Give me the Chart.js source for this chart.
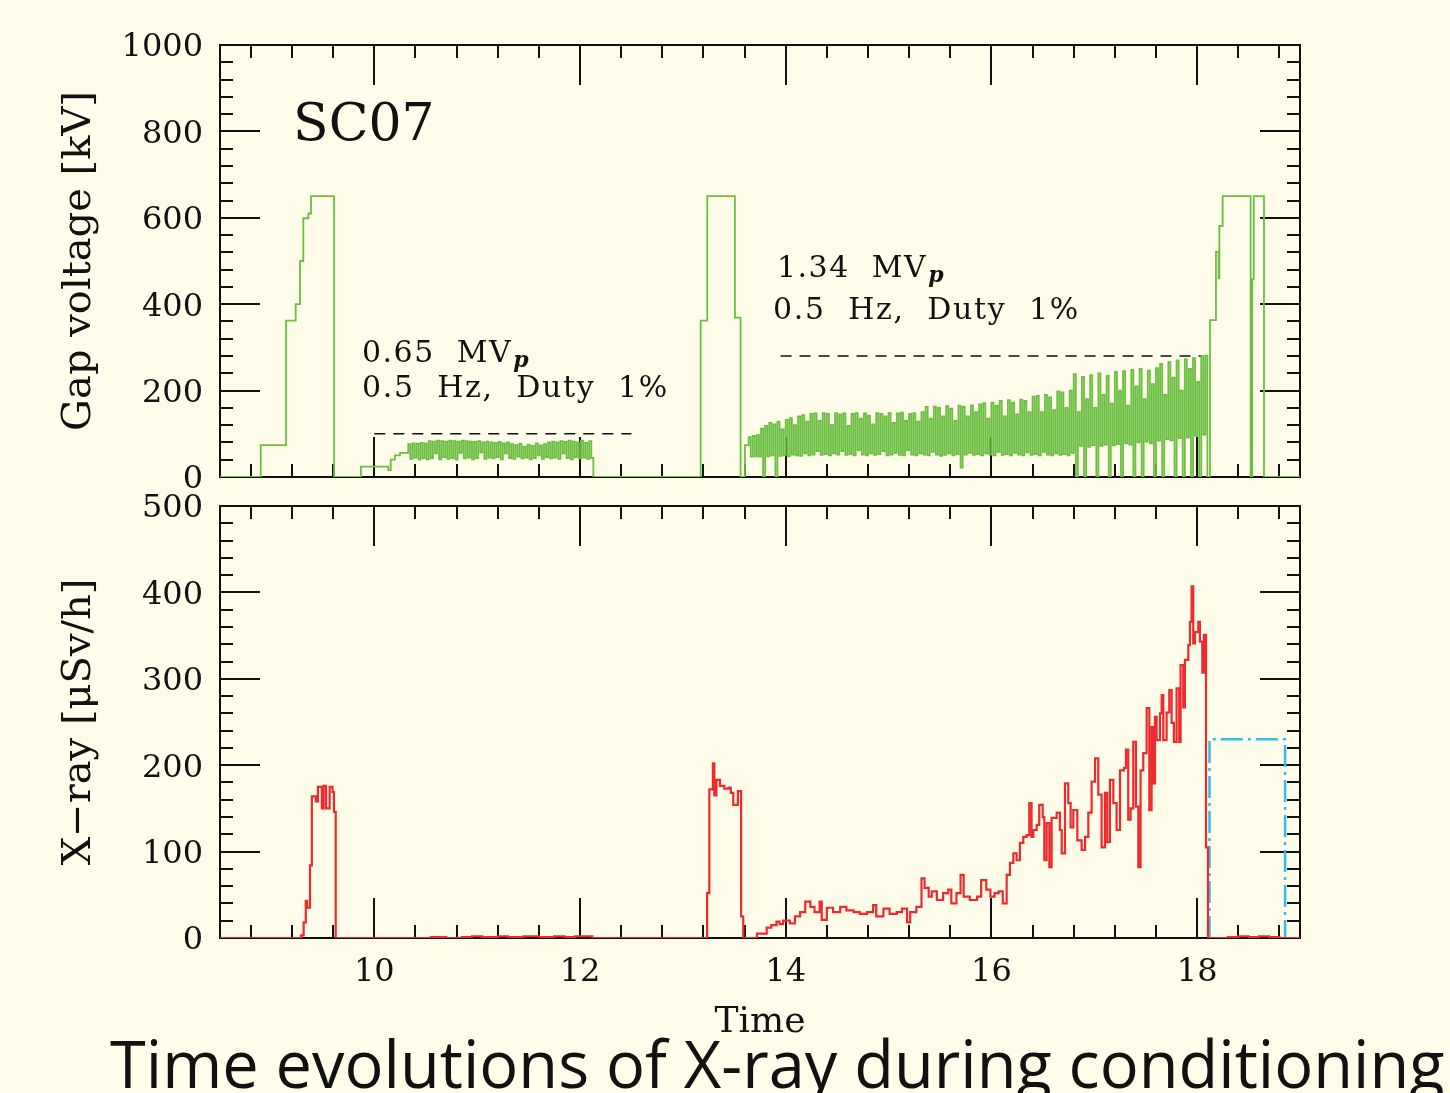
<!DOCTYPE html>
<html><head><meta charset="utf-8">
<script src="https://cdn.jsdelivr.net/npm/chart.js@4.4.1/dist/chart.umd.min.js"></script>
<style>
html,body{margin:0;padding:0;background:#fffce9;width:1450px;height:1093px;overflow:hidden;}
#topc{position:absolute;left:0;top:0;}
#botc{position:absolute;left:0;top:485px;}
#caption{position:absolute;left:110px;top:1029px;font-family:'Open Sans';font-size:66px;line-height:66px;color:#111;white-space:nowrap;transform-origin:0 0;}
</style></head><body>
<canvas id="topc" width="1450" height="500"></canvas>
<canvas id="botc" width="1450" height="608"></canvas>
<div id="caption">Time evolutions of X-ray during conditioning</div>
<script>
// ---------- data ----------
const xMin = 8.5, xMax = 19;
const xTickLabels = [10, 12, 14, 16, 18];
const gapTicks = [0, 200, 400, 600, 800, 1000];
const xrayTicks = [0, 100, 200, 300, 400, 500];

// gap voltage [kV], step segments [time, value]
const greenLead = [[8.5,0],[8.896,74],[9.142,362],[9.236,400],[9.278,500],[9.31,599],[9.36,610],[9.385,650],[9.609,0],[9.87,24],[10.136,16],[10.16,40],[10.2,50],[10.25,56]];
const pulseStep = 0.02;
const pulse1Start = 10.33;
const pulse1 = [76,42,78,45,77,40,79,44,78,41,
  83,43,82,55,84,41,83,46,82,42,
  84,44,83,40,82,56,84,43,83,45,
  82,41,81,44,83,57,80,42,82,45,
  80,43,79,46,81,41,78,55,80,44,
  76,42,74,47,77,43,70,45,75,41,
  72,44,78,50,73,42,76,46,80,43,
  82,45,80,42,83,55,81,44,84,41,
  82,46,80,43,84,45,79,42,83,44];
const greenMid = [[12.13,0],[13.173,362],[13.237,650],[13.506,369],[13.561,0],[13.604,74]];
const pulse2Start = 13.64;
const pulse2 = [92,47,95,48,97,47,112,0,118,48,125,50,122,0,128,49,110,50,132,48,
  136,52,120,50,140,49,143,55,128,50,146,52,147,60,130,51,148,53,146,50,
  120,55,148,52,145,60,147,51,118,53,146,50,148,62,135,52,147,50,142,55,
  122,51,148,53,146,60,140,50,148,52,125,56,147,51,149,50,130,62,146,52,
  148,50,128,55,150,52,162,50,135,58,163,52,160,49,140,51,164,55,158,50,
  130,53,165,22,162,52,140,56,166,51,150,53,168,50,171,55,135,52,172,50,
  165,58,176,51,140,53,178,50,172,56,145,52,179,50,176,57,150,51,186,53,
  188,50,150,58,190,52,184,50,155,55,198,51,196,53,160,50,200,56,238,0,
  150,72,232,0,180,70,236,74,160,0,240,72,190,75,234,0,170,73,243,76,
  200,0,245,78,165,75,248,0,210,80,250,0,180,82,246,78,215,0,252,84,
  262,0,190,88,266,85,230,0,270,90,200,0,272,92,250,0,275,95,220,0,280,98,281,0];
const greenTail = [[18.125,363],[18.183,521],[18.209,460],[18.216,581],[18.248,650],[18.52,0],[18.535,458],[18.55,650],[18.65,0],[19,0]];

// reference levels (dashed)
const guide1T = [10, 12.5], guide1V = 100;
const guide2T = [13.95, 18.05], guide2V = 280;

// X-ray [uSv/h]
const redT = [8.5,9.288,9.313,9.334,9.347,9.375,9.393,9.431,9.452,9.49,9.507,9.531,9.566,9.594,9.608,9.625,
  10.55,10.7,10.85,10.95,11.05,11.2,11.3,11.45,11.6,11.75,11.85,11.95,12.05,12.12,
  13.236,13.257,13.292,13.306,13.326,13.361,13.403,13.445,13.466,13.49,13.535,13.566,13.587,
  13.72,13.815,13.86,13.91,13.94,13.975,14.04,14.09,14.14,14.19,14.24,14.28,14.33,14.35,14.40,14.46,14.53,14.59,14.66,14.72,14.79,14.85,14.88,14.95,
  15.01,15.08,15.13,15.18,15.21,15.27,15.32,15.35,15.39,15.42,15.47,15.53,15.58,15.61,15.66,15.70,15.73,15.79,15.86,15.90,15.95,15.99,
  16.03,16.07,16.11,16.148,16.18,16.213,16.245,16.277,16.31,16.342,16.368,16.39,16.407,16.44,16.465,16.498,16.514,16.537,16.563,16.585,16.634,16.666,16.683,16.715,16.747,16.77,16.796,16.835,16.877,16.91,16.942,16.974,
  17.007,17.039,17.071,17.104,17.126,17.152,17.185,17.217,17.25,17.288,17.308,17.33,17.353,17.379,17.405,17.428,17.45,17.476,17.509,17.535,17.557,17.574,17.59,17.606,17.638,17.655,17.671,17.703,17.729,17.752,17.774,17.8,17.826,17.839,17.865,17.881,17.914,17.93,17.946,17.962,17.979,
  18.011,18.027,18.05,18.066,18.086,18.105,18.3,18.4,18.5,18.6,18.7,18.8,19];
const redV = [0,3,18,43,35,84,164,158,175,150,176,150,175,169,146,0,
  1,0,1,2,1,2,1,2,1,2,1,2,2,0,
  52,172,202,165,183,176,173,174,168,154,170,25,0,
  5,12,15,19,16,20,17,25,30,42,36,30,42,21,35,30,36,32,30,28,30,38,25,34,
  28,30,34,18,30,36,69,58,48,54,44,52,56,40,52,73,48,44,48,67,56,48,
  52,54,40,73,87,98,90,110,117,119,156,117,125,131,154,140,90,133,82,139,145,125,98,179,156,128,148,113,102,117,145,181,
  208,166,105,168,111,183,156,125,194,197,218,137,150,227,152,82,194,214,266,148,244,179,256,229,260,281,229,261,287,249,227,289,227,316,267,322,339,366,407,341,354,
  366,343,307,351,105,0,1,2,1,2,1,0,0];

// dash-dot box
const boxT = [18.12, 18.855], boxV = 230;

// ---------- build ----------
const greenPts = [];
greenLead.forEach(([t, v]) => greenPts.push({x: t, y: v}));
pulse1.forEach((v, i) => greenPts.push({x: pulse1Start + i * pulseStep, y: v}));
greenMid.forEach(([t, v]) => greenPts.push({x: t, y: v}));
pulse2.forEach((v, i) => greenPts.push({x: pulse2Start + i * pulseStep, y: v}));
greenTail.forEach(([t, v]) => greenPts.push({x: t, y: v}));
const redPts = redT.map((t, i) => ({x: t, y: redV[i]}));

Chart.defaults.font.family = 'DejaVu Serif';
Chart.defaults.color = '#111';
Chart.defaults.animation = false;

const INK = '#111';
const frameTicks = {
  id: 'frameTicks',
  beforeDatasetsDraw(chart, args, o) {
    const {ctx, chartArea: a, scales: {x, y}} = chart;
    ctx.save();
    ctx.strokeStyle = INK; ctx.lineWidth = 2;
    ctx.beginPath();
    const eps = 1e-6;
    for (let v = o.xMinorStart; v < xMax - eps; v += o.xMinor) {
      const rv = Math.round(v * 100) / 100;
      const major = Math.abs(rv / o.xMajor - Math.round(rv / o.xMajor)) < 1e-3;
      const len = major ? 40 : 13;
      const px = Math.round(x.getPixelForValue(rv));
      ctx.moveTo(px, a.bottom); ctx.lineTo(px, a.bottom - len);
      ctx.moveTo(px, a.top); ctx.lineTo(px, a.top + len);
    }
    for (let v = o.yMinor; v < o.yMax - eps; v += o.yMinor) {
      const major = Math.abs(v / o.yMajor - Math.round(v / o.yMajor)) < 1e-3;
      const len = major ? 40 : 13;
      const py = Math.round(y.getPixelForValue(v));
      ctx.moveTo(a.left, py); ctx.lineTo(a.left + len, py);
      ctx.moveTo(a.right, py); ctx.lineTo(a.right - len, py);
    }
    ctx.stroke();
    ctx.strokeRect(a.left, a.top, a.right - a.left, a.bottom - a.top);
    ctx.restore();
  }
};

const notes = {
  id: 'notes',
  afterDatasetsDraw(chart, args, o) {
    const {ctx, scales: {x, y}} = chart;
    ctx.save();
    ctx.fillStyle = INK; ctx.textAlign = 'left'; ctx.textBaseline = 'alphabetic';
    for (const n of o.items) {
      const px = x.getPixelForValue(n.t), py = y.getPixelForValue(n.v);
      ctx.font = n.font;
      ctx.letterSpacing = n.spacing || '0px';
      ctx.fillText(n.text, px, py);
      if (n.sub) {
        const w = ctx.measureText(n.text).width;
        ctx.font = n.subFont;
        ctx.letterSpacing = '0px';
        ctx.fillText(n.sub, px + w + 1, py + n.subDy);
      }
    }
    ctx.restore();
  }
};

const noGrid = {display: false, drawTicks: false, tickLength: 0};
const noVPad = s => { s.width = 220; s.paddingTop = 0; s.paddingBottom = 0; };

new Chart(document.getElementById('topc'), {
  type: 'line',
  data: {datasets: [
    {data: greenPts, borderColor: '#6bbe42', borderWidth: 1.8, stepped: 'before', pointRadius: 0, tension: 0},
    {data: guide1T.map(t => ({x: t, y: guide1V})), borderColor: INK, borderWidth: 1.6, borderDash: [11, 8], pointRadius: 0},
    {data: guide2T.map(t => ({x: t, y: guide2V})), borderColor: INK, borderWidth: 1.6, borderDash: [11, 8], pointRadius: 0}
  ]},
  options: {
    responsive: false, devicePixelRatio: 1,
    layout: {padding: {left: 0, right: 150, top: 45, bottom: 23}},
    plugins: {
      legend: {display: false}, tooltip: {enabled: false},
      frameTicks: {xMinorStart: 8.8, xMinor: 0.4, xMajor: 2, yMinor: 40, yMajor: 200, yMax: 1000},
      notes: {items: [
        {t: 9.21, v: 780, text: 'SC07', font: '52px DejaVu Serif'},
        {t: 9.88, v: 266, text: '0.65  MV', font: '30px DejaVu Serif', spacing: '1.5px', sub: 'p', subFont: 'italic bold 22px DejaVu Serif', subDy: 5},
        {t: 9.88, v: 185, text: '0.5  Hz,  Duty  1%', font: '30px DejaVu Serif', spacing: '1.7px'},
        {t: 13.915, v: 463, text: '1.34  MV', font: '30px DejaVu Serif', spacing: '1.5px', sub: 'p', subFont: 'italic bold 22px DejaVu Serif', subDy: 5},
        {t: 13.876, v: 366, text: '0.5  Hz,  Duty  1%', font: '30px DejaVu Serif', spacing: '1.7px'}
      ]}
    },
    scales: {
      x: {type: 'linear', min: xMin, max: xMax, display: false},
      y: {type: 'linear', min: 0, max: 1000, position: 'left',
        afterBuildTicks: s => { s.ticks = gapTicks.map(v => ({value: v})); },
        afterFit: noVPad,
        grid: noGrid, border: {display: false},
        ticks: {font: {size: 32}, padding: 17, labelOffset: 3, color: INK, callback: v => String(v)},
        title: {display: true, text: 'Gap voltage [kV]', font: {size: 40}, color: INK, padding: {top: 56, bottom: 0}}
      }
    }
  },
  plugins: [frameTicks, notes]
});

new Chart(document.getElementById('botc'), {
  type: 'line',
  data: {datasets: [
    {data: redPts, borderColor: '#ee2a2e', borderWidth: 2.2, stepped: 'before', pointRadius: 0, tension: 0},
    {data: [{x: boxT[0], y: 0}, {x: boxT[0], y: boxV}, {x: boxT[1], y: boxV}, {x: boxT[1], y: 0}],
     borderColor: '#2fbdf0', borderWidth: 2.5, borderDash: [22, 5, 3, 5], pointRadius: 0, tension: 0}
  ]},
  options: {
    responsive: false, devicePixelRatio: 1,
    layout: {padding: {left: 0, right: 150, top: 21, bottom: 0}},
    plugins: {
      legend: {display: false}, tooltip: {enabled: false},
      frameTicks: {xMinorStart: 8.8, xMinor: 0.4, xMajor: 2, yMinor: 20, yMajor: 100, yMax: 500}
    },
    scales: {
      x: {type: 'linear', min: xMin, max: xMax, position: 'bottom',
        afterBuildTicks: s => { s.ticks = xTickLabels.map(v => ({value: v})); },
        afterFit: s => { s.height = 155; },
        grid: noGrid, border: {display: false},
        ticks: {font: {size: 32}, padding: 15, color: INK, maxRotation: 0, autoSkip: false, callback: v => String(v)},
        title: {display: true, text: 'Time', font: {size: 36}, color: INK, padding: {top: 0, bottom: 49}}
      },
      y: {type: 'linear', min: 0, max: 500, position: 'left',
        afterBuildTicks: s => { s.ticks = xrayTicks.map(v => ({value: v})); },
        afterFit: noVPad,
        grid: noGrid, border: {display: false},
        ticks: {font: {size: 32}, padding: 17, labelOffset: 3, color: INK, callback: v => String(v)},
        title: {display: true, text: 'X\u2212ray [\u03bcSv/h]', font: {size: 40}, color: INK, padding: {top: 56, bottom: 0}}
      }
    }
  },
  plugins: [frameTicks]
});

// fit caption width to the reference span
const cap = document.getElementById('caption');
const natural = cap.scrollWidth;
cap.style.transform = 'scaleX(' + (1335 / natural) + ')';
</script>
</body></html>
